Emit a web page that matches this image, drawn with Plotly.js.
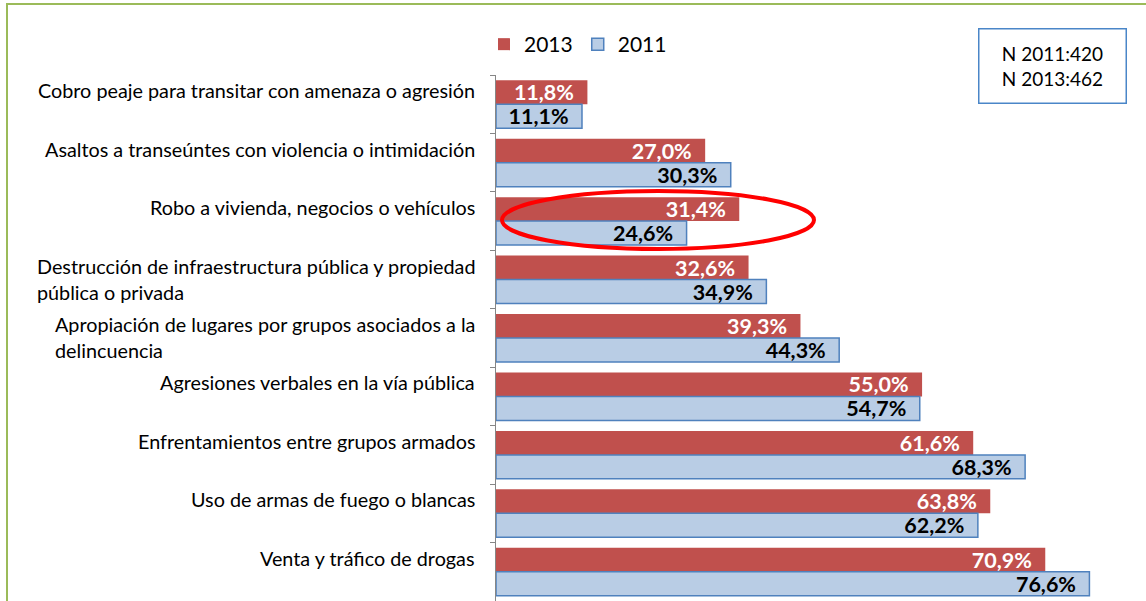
<!DOCTYPE html>
<html>
<head>
<meta charset="utf-8">
<script src="https://cdn.plot.ly/plotly-3.0.1.min.js"></script>
<style>
  html, body { margin: 0; padding: 0; background: #ffffff; }
  #chart { width: 1146px; height: 601px; }
</style>
</head>
<body>
<div id="chart"></div>
<script>
// ---- data ----
var categories = [
  "Cobro peaje para transitar con amenaza o agresión",
  "Asaltos a transeúntes con violencia o intimidación",
  "Robo a vivienda, negocios o vehículos",
  "Destrucción de infraestructura pública y propiedad pública o privada",
  "Apropiación de lugares por grupos asociados a la delincuencia",
  "Agresiones verbales en la vía pública",
  "Enfrentamientos entre grupos armados",
  "Uso de armas de fuego o blancas",
  "Venta y tráfico de drogas"
];
var categoryLabels = [
  "Cobro peaje para transitar con amenaza o agresión<br>&nbsp;",
  "Asaltos a transeúntes con violencia o intimidación<br>&nbsp;",
  "Robo a vivienda, negocios o vehículos<br>&nbsp;",
  "Destrucción de infraestructura pública y propiedad<br>pública o privada",
  "Apropiación de lugares por grupos asociados a la<br>delincuencia",
  "Agresiones verbales en la vía pública<br>&nbsp;",
  "Enfrentamientos entre grupos armados<br>&nbsp;",
  "Uso de armas de fuego o blancas<br>&nbsp;",
  "Venta y tráfico de drogas<br>&nbsp;"
];
var values2013 = [11.8, 27.0, 31.4, 32.6, 39.3, 55.0, 61.6, 63.8, 70.9];
var values2011 = [11.1, 30.3, 24.6, 34.9, 44.3, 54.7, 68.3, 62.2, 76.6];
var seriesNames = ["2013", "2011"];
var sampleNote = "N 2011:420<br>N 2013:462";

// ---- layout constants ----
var W = 1146, H = 601;
var mL = 496, mR = 7, mT = 75, mB = 0;
var pw = W - mL - mR, ph = H - mT - mB;
function px(x) { return (x - mL) / pw; }
function py(y) { return (H - mB - y) / ph; }

var FONT = "Lato, 'Open Sans', sans-serif";

var trace2013 = {
  type: "bar", orientation: "h", name: seriesNames[0],
  y: categories, x: values2013,
  marker: { color: "#C0504D", line: { color: "#C0504D", width: 0 } },
  texttemplate: "%{x:.1f}%&nbsp;&nbsp;",
  textposition: "inside", insidetextanchor: "end", textangle: 0,
  constraintext: "none",
  textfont: { family: FONT, size: 21.5, color: "#ffffff", weight: "bold" },
  hoverinfo: "skip", cliponaxis: false
};
var trace2011 = {
  type: "bar", orientation: "h", name: seriesNames[1],
  y: categories, x: values2011,
  marker: { color: "#B9CDE5", line: { color: "#4F81BD", width: 1.5 } },
  texttemplate: "%{x:.1f}%&nbsp;&nbsp;",
  textposition: "inside", insidetextanchor: "end", textangle: 0,
  constraintext: "none",
  textfont: { family: FONT, size: 21.5, color: "#000000", weight: "bold" },
  hoverinfo: "skip", cliponaxis: false
};

var annotations = categories.map(function (c, i) {
  return {
    xref: "x", yref: "y", x: 0, y: c,
    xanchor: "right", yanchor: "middle", xshift: -19, yshift: 1,
    align: "left", showarrow: false,
    text: categoryLabels[i],
    font: { family: FONT, size: 19.8, color: "#000000" }
  };
});
annotations.push({
  xref: "paper", yref: "paper",
  x: px(978), y: py(28), xanchor: "left", yanchor: "top",
  width: 140, height: 67, align: "center", valign: "middle",
  showarrow: false, text: sampleNote,
  bordercolor: "#4A86C8", borderwidth: 1.5, borderpad: 3, bgcolor: "#ffffff",
  font: { family: FONT, size: 19, color: "#000000" }
});

var layout = {
  width: W, height: H,
  margin: { l: mL, r: mR, t: mT, b: mB, pad: 0 },
  paper_bgcolor: "#ffffff", plot_bgcolor: "#ffffff",
  separators: ",.",
  barmode: "group", bargap: 0.18, bargroupgap: 0,
  showlegend: true,
  legend: {
    orientation: "h", x: px(484), y: py(24), xanchor: "left", yanchor: "top",
    font: { family: FONT, size: 21, color: "#000000" },
    itemwidth: 30, tracegroupgap: 0, bgcolor: "rgba(0,0,0,0)"
  },
  xaxis: {
    range: [0, 83], visible: false, showgrid: false, zeroline: false, fixedrange: true
  },
  yaxis: {
    type: "category", categoryorder: "array", categoryarray: categories,
    autorange: "reversed",
    showline: true, linecolor: "#868686", linewidth: 1,
    ticks: "outside", ticklen: 5, tickcolor: "#868686", tickwidth: 1,
    tickson: "boundaries", showticklabels: false, showgrid: false,
    zeroline: false, fixedrange: true
  },
  annotations: annotations,
  shapes: [
    { type: "rect", xref: "paper", yref: "paper", layer: "above",
      x0: px(7), x1: px(1160), y0: py(640), y1: py(4),
      line: { color: "#9BBB59", width: 2 }, fillcolor: "rgba(0,0,0,0)" },
    { type: "circle", xref: "paper", yref: "paper", layer: "above",
      x0: px(502), x1: px(814), y0: py(249), y1: py(191),
      line: { color: "#FF0000", width: 4 }, fillcolor: "rgba(0,0,0,0)" }
  ]
};

Plotly.newPlot("chart", [trace2013, trace2011], layout, { staticPlot: true, displayModeBar: false });
</script>
</body>
</html>
